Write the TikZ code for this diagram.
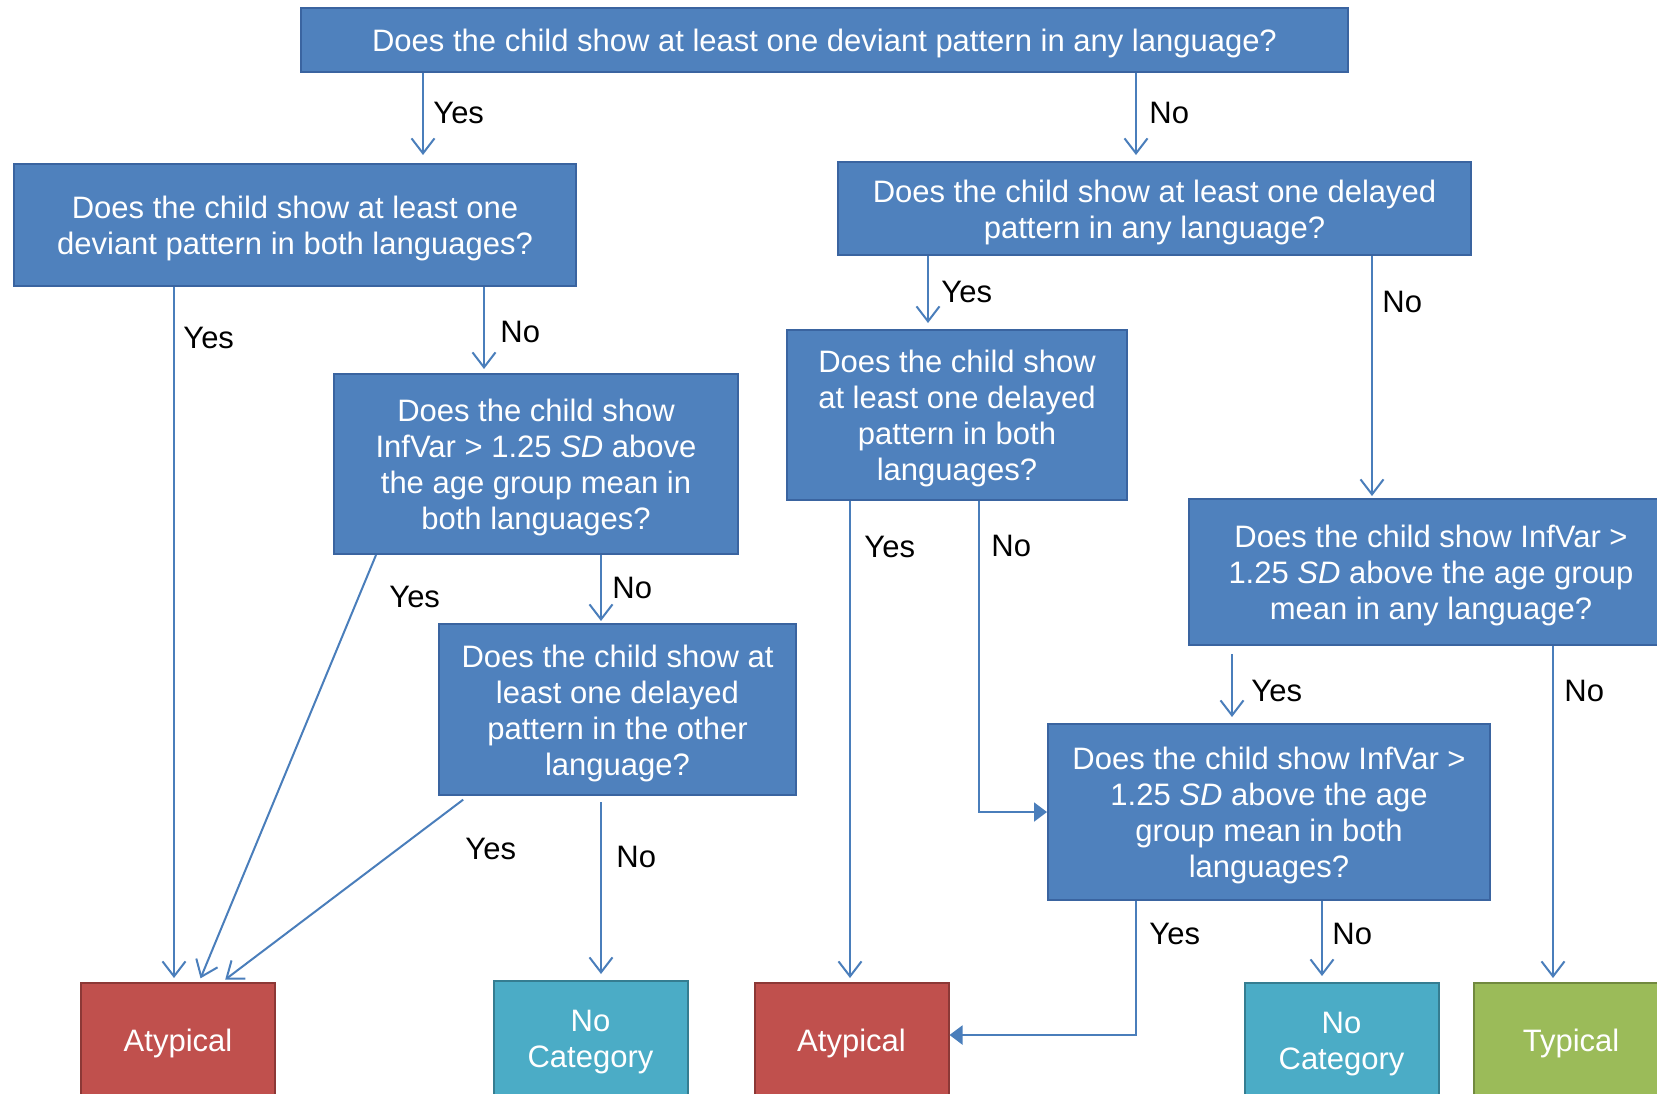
\documentclass[tikz,border=0pt]{standalone}
\usepackage{fontspec}
\setmainfont{Liberation Sans}
\usetikzlibrary{arrows.meta}
\definecolor{qfill}{HTML}{4F81BD}
\definecolor{qborder}{HTML}{3A64A0}
\definecolor{linkcol}{HTML}{4A7EBB}
\definecolor{redfill}{HTML}{C0504D}
\definecolor{redborder}{HTML}{8C3836}
\definecolor{tealfill}{HTML}{4BACC6}
\definecolor{tealborder}{HTML}{357D91}
\definecolor{greenfill}{HTML}{9BBB59}
\definecolor{greenborder}{HTML}{71893F}
\newcommand\flowfont{\fontsize{15.5}{18}\selectfont}
% text of a box, set slightly below the box centre
\newcommand\boxtext[2]{\node[boxtxt] (#1-text) at ([yshift=-1.8pt]#1.center) {#2};}
\begin{document}
\begin{tikzpicture}[x=0.5pt,y=-0.5pt,
  question/.style={draw=qborder, fill=qfill, line width=1pt, inner sep=0pt},
  boxtxt/.style={inner sep=0pt, align=center, text=white, font=\flowfont},
  outcome/.style={line width=1pt, inner sep=0pt,
    minimum width=97pt, minimum height=57pt},
  atyp/.style={outcome, draw=redborder, fill=redfill},
  nocat/.style={outcome, draw=tealborder, fill=tealfill},
  typ/.style={outcome, draw=greenborder, fill=greenfill},
  arr/.style={draw=linkcol, line width=1pt,
    -{Straight Barb[length=7.5pt,width=11.5pt,line width=1pt]}, shorten >=2pt},
  elbow/.style={draw=linkcol, line width=1pt,
    -{Triangle[length=6.5pt,width=9.5pt]}},
  lbl/.style={anchor=west, inner sep=0pt, font=\flowfont, text=black}]

\useasboundingbox (0,0) rectangle (1657,1093);
\clip (0,0) rectangle (1657,1093);

% decision boxes
\node[question, minimum width=523.5pt, minimum height=32pt] (T) at (824.5,40) {};
\node[question, minimum width=281pt, minimum height=61pt] (A) at (295,225) {};
\node[question, minimum width=316.5pt, minimum height=46.5pt] (B) at (1154.5,208.5) {};
\node[question, minimum width=202pt, minimum height=90pt] (C) at (536,464) {};
\node[question, minimum width=178.5pt, minimum height=85.5pt] (D) at (617.5,709.5) {};
\node[question, minimum width=170pt, minimum height=85pt] (E) at (957,415) {};
\node[question, minimum width=242pt, minimum height=73pt] (F) at (1431,572) {};
\node[question, minimum width=221pt, minimum height=88pt] (G) at (1269,812) {};

\boxtext{T}{Does the child show at least one deviant pattern in any language?}
\boxtext{A}{Does the child show at least one\\deviant pattern in both languages?}
\boxtext{B}{Does the child show at least one delayed\\pattern in any language?}
\boxtext{C}{Does the child show\\InfVar > 1.25 \textit{SD} above\\the age group mean in\\both languages?}
\boxtext{D}{Does the child show at\\least one delayed\\pattern in the other\\language?}
\boxtext{E}{Does the child show\\at least one delayed\\pattern in both\\languages?}
\boxtext{F}{Does the child show InfVar >\\1.25 \textit{SD} above the age group\\mean in any language?}
\boxtext{G}{Does the child show InfVar >\\1.25 \textit{SD} above the age\\group mean in both\\languages?}

% outcome boxes
\node[atyp] (At1) at (178,1040) {};
\node[nocat] (NC1) at (590.5,1038) {};
\node[atyp] (At2) at (851.5,1040) {};
\node[nocat] (NC2) at (1341.5,1040) {};
\node[typ] (Ty) at (1571,1040) {};

\boxtext{At1}{Atypical}
\boxtext{NC1}{No\\Category}
\boxtext{At2}{Atypical}
\boxtext{NC2}{No\\Category}
\boxtext{Ty}{Typical}

% connectors
\draw[arr, shorten >=4pt] (T.south -| 423,0) -- (A.north -| 423,0);
\draw[arr, shorten >=3pt] (T.south -| 1136,0) -- (B.north -| 1136,0);
\draw[arr] (A.south -| 174,0) -- (At1.north -| 174,0);
\draw[arr] (A.south -| 484,0) -- (C.north -| 484,0);
\draw[arr] (C.south -| 376,0) -- (At1.north -| 199,0);
\draw[arr, shorten >=1pt] (C.south -| 601,0) -- (D.north -| 601,0);
\draw[arr, shorten <=3pt] (D.south -| 468,0) -- (At1.north -| 222,0);
\draw[arr, shorten <=3pt, shorten >=3pt] (D.south -| 601,0) -- (NC1.north -| 601,0);
\draw[arr, shorten >=3pt] (B.south -| 928,0) -- (E.north -| 928,0);
\draw[arr, shorten >=1pt] (B.south -| 1372,0) -- (F.north -| 1372,0);
\draw[arr] (E.south -| 850,0) -- (At2.north -| 850,0);
\draw[elbow] (E.south -| 979,0) |- (G.west);
\draw[arr, shorten <=4pt, shorten >=3pt] (F.south -| 1232,0) -- (G.north -| 1232,0);
\draw[arr] (F.south -| 1553,0) -- (Ty.north -| 1553,0);
\draw[elbow] (G.south -| 1136,0) |- (At2.east |- 0,1035);
\draw[arr, shorten >=3pt] (G.south -| 1322,0) -- (NC2.north -| 1322,0);

% branch labels
\node[lbl] (lTy) at (433,113) {Yes};
\node[lbl] (lTn) at (1149,113) {No};
\node[lbl] (lAy) at (183,338) {Yes};
\node[lbl] (lAn) at (500,332) {No};
\node[lbl] (lCy) at (389,597) {Yes};
\node[lbl] (lCn) at (612,588) {No};
\node[lbl] (lDy) at (465,849) {Yes};
\node[lbl] (lDn) at (616,857) {No};
\node[lbl] (lBy) at (941,292) {Yes};
\node[lbl] (lBn) at (1382,302) {No};
\node[lbl] (lEy) at (864,547) {Yes};
\node[lbl] (lEn) at (991,546) {No};
\node[lbl] (lFy) at (1251,691) {Yes};
\node[lbl] (lFn) at (1564,691) {No};
\node[lbl] (lGy) at (1149,934) {Yes};
\node[lbl] (lGn) at (1332,934) {No};
\end{tikzpicture}
\end{document}
